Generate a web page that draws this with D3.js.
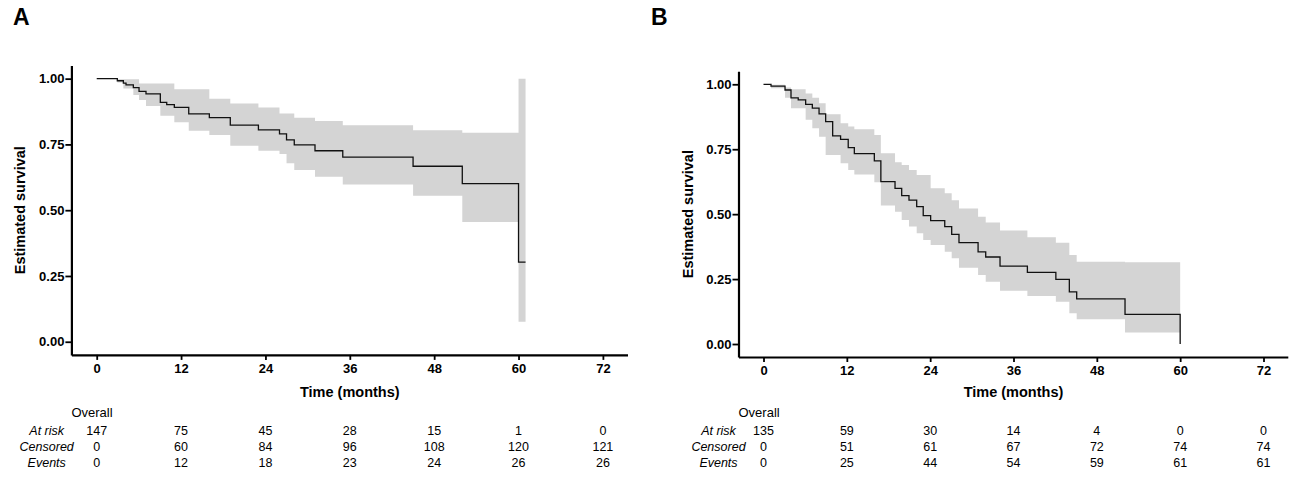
<!DOCTYPE html>
<html>
<head>
<meta charset="utf-8">
<script src="https://cdn.jsdelivr.net/npm/d3@7"></script>
<style>
	body { margin: 0; background: #fff; }
	svg { display: block; font-family: "Liberation Sans", Arial, Helvetica, sans-serif; }
</style>
</head>
<body>
<script>
// panel A - step times (months), survival, 95% band
var timesA = [0, 2.93, 3.79, 4.17, 5.21, 6.02, 7.01, 9.05, 9.96, 11.04, 13.09, 16.02, 19.0, 23.0, 26.0, 27.0, 28.1, 31.05, 35.0, 45.0, 52.0, 60.0];
var survA  = [1.0, 0.992, 0.983, 0.976, 0.966, 0.952, 0.942, 0.910, 0.901, 0.891, 0.866, 0.852, 0.823, 0.805, 0.790, 0.767, 0.748, 0.726, 0.702, 0.667, 0.601, 0.303];
var upperA = [1.0, 0.998, 0.998, 0.998, 0.998, 0.982, 0.982, 0.982, 0.982, 0.960, 0.960, 0.924, 0.906, 0.890, 0.868, 0.868, 0.851, 0.839, 0.823, 0.804, 0.794, 1.0];
var lowerA = [1.0, 0.985, 0.963, 0.963, 0.938, 0.919, 0.896, 0.859, 0.859, 0.834, 0.802, 0.786, 0.745, 0.726, 0.714, 0.678, 0.653, 0.627, 0.598, 0.555, 0.455, 0.076];
var endA = 61;

// panel B
var timesB = [0, 1.08, 3.1, 3.96, 5.0, 6.07, 7.03, 8.0, 8.95, 9.96, 11.1, 12.2, 13.08, 15.96, 16.9, 18.94, 19.9, 20.95, 22.06, 23.0, 24.07, 26.1, 27.1, 28.15, 30.9, 32.0, 34.06, 38.0, 42.1, 44.04, 45.1, 52.06, 60.0];
var survB  = [1.0, 0.993, 0.978, 0.948, 0.940, 0.923, 0.908, 0.886, 0.856, 0.801, 0.788, 0.756, 0.733, 0.705, 0.625, 0.599, 0.571, 0.554, 0.529, 0.494, 0.475, 0.452, 0.422, 0.390, 0.355, 0.335, 0.300, 0.276, 0.249, 0.201, 0.174, 0.114, 0.0];
var upperB = [1.0, 0.998, 0.988, 0.981, 0.981, 0.965, 0.948, 0.927, 0.885, 0.885, 0.850, 0.837, 0.827, 0.805, 0.734, 0.700, 0.689, 0.670, 0.651, 0.651, 0.600, 0.580, 0.554, 0.522, 0.490, 0.468, 0.437, 0.411, 0.390, 0.343, 0.317, 0.315, 0.0];
var lowerB = [1.0, 0.985, 0.948, 0.908, 0.908, 0.863, 0.831, 0.798, 0.728, 0.728, 0.696, 0.670, 0.653, 0.623, 0.533, 0.509, 0.477, 0.452, 0.426, 0.400, 0.381, 0.355, 0.330, 0.294, 0.266, 0.240, 0.205, 0.185, 0.163, 0.118, 0.095, 0.044, 0.0];
var endB = 60;

// axis ticks + risk table
var monthTicks = [0, 12, 24, 36, 48, 60, 72];
var survTicks = [0, 0.25, 0.5, 0.75, 1];
var rowLabels = ['At risk', 'Censored', 'Events'];
var atRiskA   = [147, 75, 45, 28, 15, 1, 0];
var censoredA = [0, 60, 84, 96, 108, 120, 121];
var eventsA   = [0, 12, 18, 23, 24, 26, 26];
var atRiskB   = [135, 59, 30, 14, 4, 0, 0];
var censoredB = [0, 51, 61, 67, 72, 74, 74];
var eventsB   = [0, 25, 44, 54, 59, 61, 61];

var svg = d3.select('body')
	.append('svg')
	.attr('width', 1299)
	.attr('height', 478);

function drawPanel(p) {
	var x = d3.scaleLinear().domain([-3.6, 75.5]).range(p.xRange);
	var y = d3.scaleLinear().domain([-0.05, 1.05]).range(p.yRange);
	var g = svg.append('g');

	var pts = p.times.map(function(t, i) {
		return {t: t, s: p.surv[i], hi: p.upper[i], lo: p.lower[i]};
	});
	var last = pts[pts.length - 1];
	pts.push({t: p.end, s: last.s, hi: last.hi, lo: last.lo});

	var band = d3.area()
		.curve(d3.curveStepAfter)
		.x(function(d) { return x(d.t); })
		.y0(function(d) { return y(d.lo); })
		.y1(function(d) { return y(d.hi); });

	var line = d3.line()
		.curve(d3.curveStepAfter)
		.x(function(d) { return x(d.t); })
		.y(function(d) { return y(d.s); });

	g.append('path')
		.datum(pts)
		.attr('d', band)
		.attr('fill', '#d4d4d4');

	g.append('path')
		.datum(pts)
		.attr('d', line)
		.attr('fill', 'none')
		.attr('stroke', '#111')
		.attr('stroke-width', 1.3);

	var xAxis = g.append('g')
		.attr('transform', 'translate(0,' + p.yRange[0] + ')')
		.call(d3.axisBottom(x).tickValues(monthTicks).tickSize(5).tickSizeOuter(0).tickPadding(4));
	var yAxis = g.append('g')
		.attr('transform', 'translate(' + p.xRange[0] + ',0)')
		.call(d3.axisLeft(y).tickValues(survTicks).tickFormat(d3.format('.2f')).tickSize(6).tickSizeOuter(0).tickPadding(1));

	[xAxis, yAxis].forEach(function(a) {
		a.select('.domain').attr('stroke', '#000').attr('stroke-width', 2.2);
		a.selectAll('.tick line').attr('stroke', '#000').attr('stroke-width', 1.8);
		a.selectAll('.tick text')
			.attr('fill', '#000')
			.style('font-size', '13px')
			.style('font-weight', 'bold')
			.style('font-family', '"Liberation Sans", Arial, sans-serif');
	});

	// titles
	g.append('text')
		.attr('x', p.labelX)
		.attr('y', 25)
		.style('font-size', '23px')
		.style('font-weight', 'bold')
		.text(p.label);

	g.append('text')
		.attr('x', (x(0) + x(72)) / 2)
		.attr('y', 397)
		.attr('text-anchor', 'middle')
		.style('font-size', '14.5px')
		.style('font-weight', 'bold')
		.text('Time (months)');

	g.append('text')
		.attr('transform', 'translate(' + p.yTitleX + ',' + (y(0) + y(1)) / 2 + ') rotate(-90)')
		.attr('text-anchor', 'middle')
		.style('font-size', '14.5px')
		.style('font-weight', 'bold')
		.text('Estimated survival');

	// risk table
	g.append('text')
		.attr('x', p.xRange[0])
		.attr('y', 417)
		.style('font-size', '13px')
		.text('Overall');

	var rowY = [435, 451, 467];
	[p.atRisk, p.censored, p.events].forEach(function(row, r) {
		g.append('text')
			.attr('x', x(0) - p.rowLabelOffset)
			.attr('y', rowY[r])
			.attr('text-anchor', 'middle')
			.style('font-size', '12.5px')
			.style('font-style', 'italic')
			.text(rowLabels[r]);
		g.selectAll(null)
			.data(row)
			.enter()
			.append('text')
			.attr('x', function(d, i) { return x(monthTicks[i]); })
			.attr('y', rowY[r])
			.attr('text-anchor', 'middle')
			.style('font-size', '12.5px')
			.text(function(d) { return d; });
	});
}

drawPanel({
	label: 'A', labelX: 13,
	xRange: [71.4, 627.5], yRange: [354.9, 65.5], yTitleX: 25,
	times: timesA, surv: survA, upper: upperA, lower: lowerA, end: endA,
	atRisk: atRiskA, censored: censoredA, events: eventsA, rowLabelOffset: 50
});

drawPanel({
	label: 'B', labelX: 651,
	xRange: [738.5, 1287.8], yRange: [357, 71.3], yTitleX: 693,
	times: timesB, surv: survB, upper: upperB, lower: lowerB, end: endB,
	atRisk: atRiskB, censored: censoredB, events: eventsB, rowLabelOffset: 45
});
</script>
</body>
</html>
